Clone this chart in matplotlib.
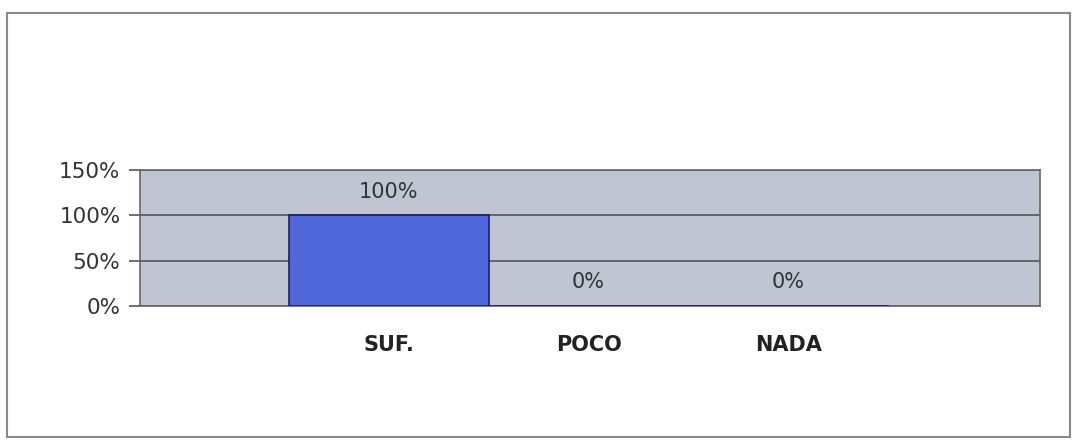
import matplotlib.pyplot as plt
import numpy as np
from matplotlib.patches import Rectangle

categories = ["SUF.", "POCO", "NADA"]
values = [100, 0, 0]
value_labels = ["100%", "0%", "0%"]
yticks = [0, 50, 100, 150]
ytick_labels = ["0%", "50%", "100%", "150%"]

plt.rcParams['font.family'] = ['DejaVu Sans']

fig = plt.figure(figsize=(10.74, 4.4), dpi=100)
fig.patch.set_facecolor("white")

# outer frame of the scanned chart
frame = Rectangle((7 / 1074, 3 / 440), 1063 / 1074, 424 / 440,
                  transform=fig.transFigure, fill=False,
                  edgecolor="#8a8a8a", linewidth=1.5)
fig.patches.append(frame)

ax = fig.add_axes([140 / 1074, 1 - 306 / 440, 900 / 1074, 136 / 440])
ax.set_facecolor("#c0c5d3")

x = np.arange(len(categories))
ax.bar(x, values, width=1.0, color="#5068dc", edgecolor="#1a2060",
       linewidth=1.2, zorder=3)

for xi, v, lab in zip(x, values, value_labels):
    ax.annotate(lab, (xi, v), xytext=(0, 17), textcoords="offset points",
                ha="center", va="center", fontsize=15, color="#333333")

ax.set_ylim(0, 150)
ax.set_xlim(-1.2425, 3.2575)
ax.set_yticks(yticks)
ax.set_yticklabels(ytick_labels, fontsize=15.5, color="#333333")
ax.set_xticks(x)
ax.set_xticklabels(categories, fontsize=15, fontweight="bold", color="#222222")

ax.yaxis.grid(True, color="#555555", linewidth=1.2, zorder=1)
ax.set_axisbelow(True)
ax.tick_params(axis="y", length=8, width=1.2, color="#555555", pad=6)
ax.tick_params(axis="x", length=0, pad=21)

for side in ["left", "bottom", "top", "right"]:
    ax.spines[side].set_color("#666666")
    ax.spines[side].set_linewidth(1.2)

fig.savefig("out.png", dpi=100)
